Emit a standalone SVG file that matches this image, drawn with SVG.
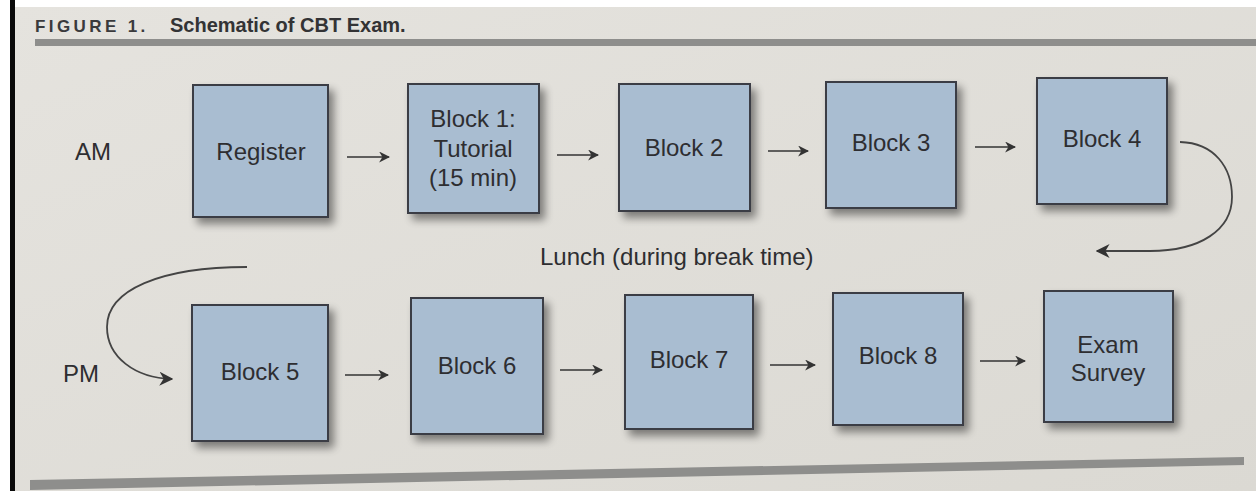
<svg xmlns="http://www.w3.org/2000/svg" width="1256" height="491" viewBox="0 0 1256 491">
<defs>
<linearGradient id="bg" x1="0" y1="0" x2="1" y2="1">
<stop offset="0" stop-color="#e5e3de"/>
<stop offset="1" stop-color="#dbd9d3"/>
</linearGradient>
<filter id="sh" x="-20%" y="-20%" width="150%" height="150%">
<feGaussianBlur in="SourceAlpha" stdDeviation="4"/>
<feOffset dx="5" dy="6" result="b"/>
<feComponentTransfer><feFuncA type="linear" slope="0.45"/></feComponentTransfer>
<feMerge><feMergeNode/><feMergeNode in="SourceGraphic"/></feMerge>
</filter>
<marker id="ah" viewBox="0 0 10 10" refX="9" refY="5" markerWidth="11" markerHeight="11" markerUnits="userSpaceOnUse" orient="auto">
<path d="M0,0 L10,5 L0,10 L3,5 z" fill="#333"/>
</marker>
<marker id="ahc" viewBox="0 0 10 10" refX="9" refY="5" markerWidth="14" markerHeight="14" markerUnits="userSpaceOnUse" orient="auto">
<path d="M0,0 L10,5 L0,10 L3,5 z" fill="#333"/>
</marker>
</defs>
<style>
.box{fill:#a9bdd1;stroke:#3b3d44;stroke-width:2;filter:url(#sh)}
.t{font-family:"Liberation Sans",Arial,sans-serif;font-size:24px;fill:#2e2e31;text-anchor:middle}
.lbl{font-family:"Liberation Sans",Arial,sans-serif;font-size:24px;fill:#2e2e31}
.ar{stroke:#333;stroke-width:1.7;fill:none;marker-end:url(#ah)}
.cv{stroke:#444;stroke-width:1.8;fill:none;marker-end:url(#ahc)}
</style>
<rect x="0" y="0" width="1256" height="491" fill="#ffffff"/>
<rect x="10" y="7" width="1246" height="484" fill="url(#bg)"/>
<rect x="10" y="0" width="5" height="491" fill="#0a0a0a"/>
<text x="35" y="32" font-family="'Liberation Sans',Arial,sans-serif" font-weight="bold" font-size="17" letter-spacing="3.4" fill="#3a3a3c">FIGURE 1.</text>
<text x="170" y="32" font-family="'Liberation Sans',Arial,sans-serif" font-weight="bold" font-size="20" fill="#333335">Schematic of CBT Exam.</text>
<rect x="35" y="39" width="1221" height="7" fill="#8e8e8c"/>
<polygon points="30,480 1244,457 1244,465 30,490" fill="#8e8e8c"/>
<text class="lbl" x="75" y="160">AM</text>
<text class="lbl" x="63" y="382">PM</text>
<text class="lbl" x="540" y="265">Lunch (during break time)</text>
<g id="register"><rect class="box" x="193" y="85" width="135" height="132"/><text class="t" x="261" y="160">Register</text></g>
<g id="block1"><rect class="box" x="408" y="84" width="131" height="129"/><text class="t" x="473" y="127">Block 1:</text><text class="t" x="473" y="157">Tutorial</text><text class="t" x="473" y="186">(15 min)</text></g>
<g id="block2"><rect class="box" x="619" y="84" width="131" height="127"/><text class="t" x="684" y="156">Block 2</text></g>
<g id="block3"><rect class="box" x="826" y="82" width="130" height="126"/><text class="t" x="891" y="151">Block 3</text></g>
<g id="block4"><rect class="box" x="1037" y="78" width="130" height="126"/><text class="t" x="1102" y="147">Block 4</text></g>
<g id="block5"><rect class="box" x="192" y="305" width="136" height="136"/><text class="t" x="260" y="380">Block 5</text></g>
<g id="block6"><rect class="box" x="411" y="298" width="132" height="136"/><text class="t" x="477" y="374">Block 6</text></g>
<g id="block7"><rect class="box" x="625" y="295" width="128" height="134"/><text class="t" x="689" y="368">Block 7</text></g>
<g id="block8"><rect class="box" x="833" y="293" width="130" height="132"/><text class="t" x="898" y="364">Block 8</text></g>
<g id="exam-survey"><rect class="box" x="1044" y="291" width="129" height="131"/><text class="t" x="1108" y="353">Exam</text><text class="t" x="1108" y="381">Survey</text></g>
<g id="connectors">
<path class="ar" d="M347,157 L389,157"/>
<path class="ar" d="M557,155 L598,155"/>
<path class="ar" d="M768,151 L808,151"/>
<path class="ar" d="M975,147 L1015,147"/>
<path class="ar" d="M345,375 L388,375"/>
<path class="ar" d="M560,370 L602,370"/>
<path class="ar" d="M770,365 L815,365"/>
<path class="ar" d="M980,361 L1025,361"/>
<path class="cv" d="M1180,142 C1215,143 1232,168 1232,197 C1232,230 1200,251 1150,251 L1097,251"/>
<path class="cv" d="M247,267 C160,267 107,290 107,327 C107,357 135,378 172,379"/>
</g>
</svg>
